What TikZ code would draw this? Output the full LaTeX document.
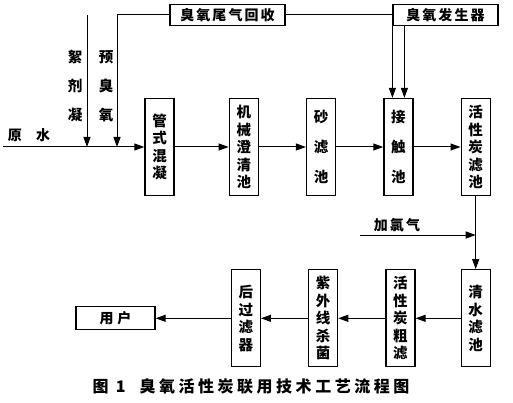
\documentclass[tikz,border=0pt]{standalone}
\usepackage{fontspec}
\newfontfamily\cjk{Noto Sans CJK SC}
\newfontfamily\cjkwide[LetterSpace=15]{Noto Sans CJK SC}
\newfontfamily\capfont[LetterSpace=22]{Noto Sans CJK SC}
\usetikzlibrary{arrows.meta,positioning}

\begin{document}
\begin{tikzpicture}[x=1pt, y=-1pt,
  node distance=47pt,
  tank/.style={rectangle, draw, line width=1.3pt,
               minimum width=29pt, minimum height=97pt, inner sep=0pt,
               align=center, font=\cjk\bfseries\fontsize{14.5}{17.5}\selectfont},
  tag/.style={rectangle, draw, line width=1.3pt, minimum height=21pt,
              inner sep=2pt, font=\cjkwide\bfseries\fontsize{14}{16}\selectfont},
  lbl/.style={inner sep=0pt, align=center, font=\cjk\bfseries\fontsize{14.5}{29}\selectfont},
  flow/.style={-{Triangle[length=10pt,width=7pt]}, line width=1pt}
]
\useasboundingbox (0,0) rectangle (513,403);

% treatment line, top row
\node[tank]                    (mix)   at (159.5,147) {管\\式\\混\\凝};
\node[tank, right=54pt of mix] (clar)  {机\\械\\澄\\清\\池};
\node[tank, right=of clar]     (sand)  {砂\\[12.5pt]滤\\[12.5pt]池};
\node[tank, right=of sand]     (cont)  {接\\[12.5pt]触\\[12.5pt]池};
\node[tank, right=of cont]     (gac)   {活\\性\\炭\\滤\\池};

% bottom row, back to the left
\node[tank, below=73pt of gac]    (clear)  {清\\水\\滤\\池};
\node[tank, left=45pt of clear]   (coarse) {活\\性\\炭\\粗\\滤};
\node[tank, left=of coarse]       (uv)     {紫\\外\\线\\杀\\菌};
\node[tank, left=of uv]           (post)   {后\\过\\滤\\器};
\node[tag, left=75pt of post, minimum width=79pt, minimum height=23pt] (user) {用\hspace{4pt}户};

% ozone boxes
\node[tag, minimum width=115pt] (recov) at (227.5,15) {臭氧尾气回收};
\node[tag, minimum width=105pt] (gen)   at (445.5,15) {臭氧发生器};

% dosing points
\coordinate (raw)  at (3,147);
\coordinate (floc) at (87,15);
\coordinate (preo) at (117,147);
\coordinate (cl)   at (360,235);

\node[lbl] (flocl) at (75,86)  {絮\\剂\\凝};
\node[lbl] (preol) at (106,86) {预\\臭\\氧};
\node[inner sep=0pt, font=\cjk\bfseries\fontsize{14}{16}\selectfont] (rawl) at (29,135) {原\hspace{14pt}水};
\node[inner sep=0pt, font=\cjkwide\bfseries\fontsize{14}{16}\selectfont] (cll) at (397,225) {加氯气};

\draw[flow] (raw)    -- (mix);
\draw[flow] (floc)   -- (floc |- raw);
\draw[flow] (recov.west) -| (preo);
\draw[flow] (mix)    -- (clar);
\draw[flow] (clar)   -- (sand);
\draw[flow] (sand)   -- (cont);
\draw[flow] (cont)   -- (gac);
\draw[flow] (recov.east) -| ([xshift=-6pt]cont.north);
\draw[flow] ([xshift=6pt]cont.north |- gen.south) -- ([xshift=6pt]cont.north);

\draw[flow] (gac.south) -- (clear.north);
\draw[flow] (cl)     -- (cl -| gac.south);
\draw[flow] (clear)  -- (coarse);
\draw[flow] (coarse) -- (uv);
\draw[flow] (uv)     -- (post);
\draw[flow] (post)   -- (user);

\node[font=\capfont\bfseries\fontsize{16}{18}\selectfont] (cap) at (251,386)
  {图 1\hspace{14pt}臭氧活性炭联用技术工艺流程图};
\end{tikzpicture}
\end{document}
